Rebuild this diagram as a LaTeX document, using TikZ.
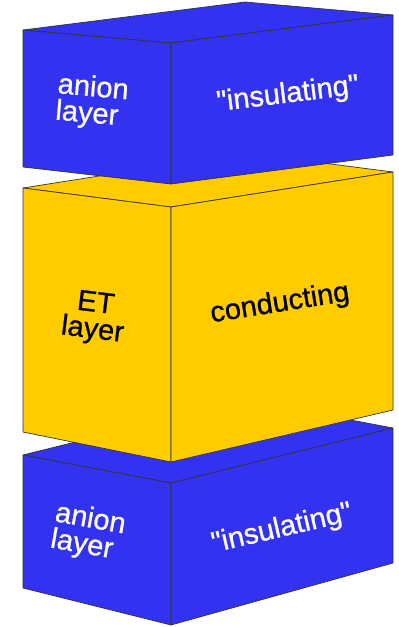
\documentclass[tikz,border=0pt]{standalone}
\usepackage{fontspec}
\newfontfamily\lblfont{Liberation Sans}[FakeBold=0.8]
\definecolor{anionblue}{RGB}{50,50,240}
\definecolor{etyellow}{RGB}{255,204,0}
\tikzset{
  face/.style={draw=black!80, line width=0.7pt, line join=round},
  anionface/.style={face, fill=anionblue},
  etface/.style={face, fill=etyellow},
  lbl/.style={font=\lblfont\fontsize{29}{26.5}\selectfont, inner sep=0pt},
}

\begin{document}
\begin{tikzpicture}[x=1pt, y=-1pt]
\useasboundingbox (0,0) rectangle (399,627);
% lower anion layer
\coordinate (lo-l) at (23,455);
\coordinate (lo-f) at (171,483);
\coordinate (lo-r) at (393,428);
\coordinate (lo-b) at (245,400);
\coordinate (lo-l2) at (23,588);
\coordinate (lo-f2) at (171,625);
\coordinate (lo-r2) at (393,563);
\draw[anionface] (lo-l) -- (lo-b) -- (lo-r) -- (lo-f) -- cycle;
\draw[anionface] (lo-l) -- (lo-f) -- (lo-f2) -- (lo-l2) -- cycle;
\draw[anionface] (lo-f) -- (lo-r) -- (lo-r2) -- (lo-f2) -- cycle;
% ET layer
\coordinate (et-l) at (23,188);
\coordinate (et-f) at (171,207);
\coordinate (et-r) at (393,172);
\coordinate (et-b) at (245,153);
\coordinate (et-l2) at (23,432);
\coordinate (et-f2) at (171,462);
\coordinate (et-r2) at (393,410);
\draw[etface] (et-l) -- (et-b) -- (et-r) -- (et-f) -- cycle;
\draw[etface] (et-l) -- (et-f) -- (et-f2) -- (et-l2) -- cycle;
\draw[etface] (et-f) -- (et-r) -- (et-r2) -- (et-f2) -- cycle;
% upper anion layer
\coordinate (up-l) at (23,30);
\coordinate (up-f) at (171,43);
\coordinate (up-r) at (393,15);
\coordinate (up-b) at (245,2);
\coordinate (up-l2) at (23,167);
\coordinate (up-f2) at (171,184);
\coordinate (up-r2) at (393,155);
\draw[anionface] (up-l) -- (up-b) -- (up-r) -- (up-f) -- cycle;
\draw[anionface] (up-l) -- (up-f) -- (up-f2) -- (up-l2) -- cycle;
\draw[anionface] (up-f) -- (up-r) -- (up-r2) -- (up-f2) -- cycle;
% labels
\node[lbl, text=white, align=left, rotate=-5] (up-side) at (92,102) {anion\\layer};
\node[lbl, text=white, rotate=7] (up-front) at (288,95) {\symbol{"22}insulating\symbol{"22}};
\node[lbl, align=center, rotate=-7] (et-side) at (94,318) {ET\\layer};
\node[lbl, rotate=9] (et-front) at (280,304) {conducting};
\node[lbl, text=white, align=left, rotate=-10] (lo-side) at (88,533) {anion\\layer};
\node[lbl, text=white, rotate=13] (lo-front) at (282,529) {\symbol{"22}insulating\symbol{"22}};
\end{tikzpicture}
\end{document}
